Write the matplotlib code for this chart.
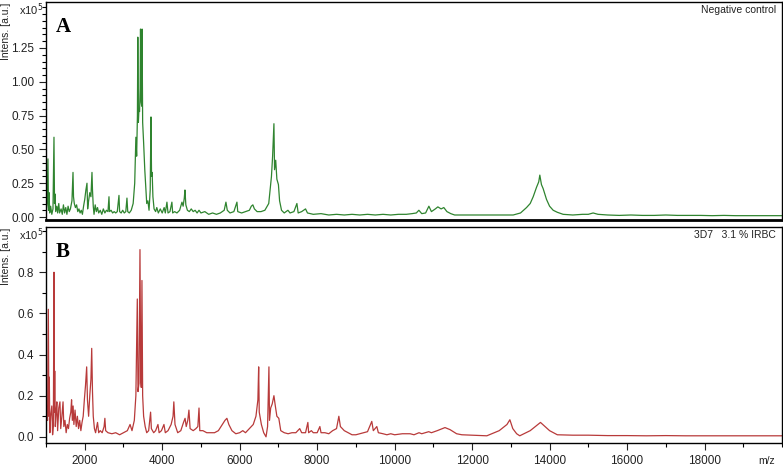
import numpy as np
import matplotlib
matplotlib.use("Agg")
import matplotlib.pyplot as plt
from matplotlib.ticker import MultipleLocator, FixedLocator

plt.rcParams['font.family'] = ['Liberation Sans', 'DejaVu Sans']

# --- panel A: negative control (m/z, intensity x1e5)
mz_a = [1000, 1030, 1050, 1065, 1080, 1095, 1120, 1150, 1180, 1206, 1220, 1235,
        1250, 1280, 1300, 1330, 1350, 1390, 1420, 1450, 1480, 1510, 1540, 1570,
        1600, 1630, 1670, 1697, 1710, 1730, 1760, 1790, 1820, 1850, 1880, 1910,
        1940, 1970, 2000, 2030, 2058, 2075, 2100, 2130, 2160, 2187, 2200, 2220,
        2240, 2270, 2300, 2330, 2360, 2400, 2440, 2480, 2520, 2560, 2600, 2626,
        2640, 2680, 2720, 2760, 2800, 2840, 2884, 2900, 2940, 2980, 3020, 3060,
        3090, 3110, 3150, 3200, 3250, 3290, 3320, 3340, 3360, 3370, 3385, 3400,
        3415, 3430, 3440, 3455, 3470, 3480, 3495, 3520, 3550, 3580, 3600, 3630,
        3660, 3690, 3710, 3725, 3740, 3760, 3790, 3830, 3860, 3900, 3950, 4000,
        4050, 4080, 4122, 4150, 4200, 4250, 4270, 4320, 4380, 4450, 4510, 4540,
        4570, 4587, 4610, 4650, 4700, 4750, 4800, 4850, 4900, 4950, 5000, 5100,
        5200, 5300, 5400, 5500, 5600, 5645, 5680, 5750, 5850, 5929, 5950, 6050,
        6150, 6250, 6300, 6340, 6380, 6450, 6550, 6650, 6750, 6820, 6850, 6884,
        6900, 6930, 6960, 7000, 7030, 7080, 7150, 7245, 7300, 7400, 7477, 7510,
        7600, 7700, 7750, 7900, 8100, 8300, 8500, 8700, 8900, 9100, 9300, 9500,
        9700, 9900, 10100, 10300, 10450, 10560, 10626, 10700, 10800, 10884, 10950,
        11050, 11116, 11200, 11270, 11350, 11450, 11550, 11800, 12100, 12400,
        12700, 12900, 13060, 13250, 13405, 13500, 13577, 13663, 13720, 13748,
        13790, 13834, 13921, 14000, 14093, 14200, 14350, 14600, 14850, 15000,
        15124, 15250, 15500, 15800, 16100, 16400, 16700, 17000, 17300, 17600,
        17900, 18200, 18500, 18800, 19100, 19400, 19700, 20000]
int_a = [0.04, 0.10, 0.43, 0.05, 0.18, 0.03, 0.08, 0.02, 0.06, 0.59, 0.10, 0.17,
         0.04, 0.08, 0.03, 0.10, 0.03, 0.06, 0.02, 0.09, 0.03, 0.07, 0.02, 0.08,
         0.04, 0.06, 0.12, 0.33, 0.15, 0.10, 0.07, 0.09, 0.04, 0.06, 0.03, 0.05,
         0.02, 0.08, 0.13, 0.20, 0.25, 0.06, 0.12, 0.18, 0.15, 0.33, 0.20, 0.08,
         0.02, 0.09, 0.04, 0.07, 0.03, 0.05, 0.02, 0.06, 0.03, 0.05, 0.04, 0.15,
         0.04, 0.05, 0.03, 0.04, 0.03, 0.04, 0.16, 0.04, 0.03, 0.05, 0.03, 0.04,
         0.14, 0.04, 0.03, 0.05, 0.10, 0.25, 0.59, 0.45, 0.75, 1.33, 0.70, 0.80,
         0.78, 0.95, 1.39, 0.85, 0.82, 1.39, 0.70, 0.55, 0.35, 0.20, 0.10, 0.12,
         0.05, 0.20, 0.74, 0.30, 0.33, 0.15, 0.06, 0.04, 0.07, 0.03, 0.06, 0.03,
         0.07, 0.03, 0.11, 0.03, 0.04, 0.11, 0.03, 0.04, 0.03, 0.05, 0.11, 0.08,
         0.14, 0.20, 0.09, 0.05, 0.04, 0.06, 0.04, 0.05, 0.03, 0.05, 0.03, 0.04,
         0.02, 0.03, 0.02, 0.03, 0.05, 0.11, 0.05, 0.03, 0.04, 0.11, 0.04, 0.03,
         0.04, 0.05, 0.08, 0.09, 0.06, 0.04, 0.04, 0.05, 0.10, 0.30, 0.45, 0.69,
         0.35, 0.42, 0.28, 0.24, 0.12, 0.05, 0.03, 0.05, 0.03, 0.04, 0.10, 0.03,
         0.04, 0.06, 0.03, 0.02, 0.025, 0.015, 0.02, 0.015, 0.02, 0.015, 0.02, 0.015,
         0.02, 0.015, 0.02, 0.02, 0.025, 0.03, 0.05, 0.025, 0.03, 0.08, 0.04,
         0.06, 0.075, 0.06, 0.07, 0.04, 0.025, 0.015, 0.015, 0.015, 0.015,
         0.015, 0.015, 0.015, 0.03, 0.07, 0.10, 0.15, 0.22, 0.26, 0.31,
         0.24, 0.21, 0.13, 0.08, 0.05, 0.035, 0.02, 0.015, 0.02, 0.02,
         0.03, 0.02, 0.015, 0.012, 0.015, 0.012, 0.012, 0.015, 0.012, 0.012,
         0.012, 0.01, 0.012, 0.01, 0.01, 0.01, 0.01, 0.01]

# --- panel B: 3D7 3.1 % IRBC
mz_b = [1000, 1020, 1040, 1060, 1075, 1085, 1100, 1120, 1150, 1170, 1190, 1206,
        1215, 1225, 1240, 1260, 1280, 1300, 1330, 1360, 1380, 1410, 1440, 1460,
        1490, 1520, 1550, 1580, 1610, 1640, 1660, 1680, 1700, 1720, 1750, 1780,
        1810, 1840, 1870, 1900, 1930, 1960, 1990, 2020, 2050, 2070, 2100, 2130,
        2160, 2180, 2200, 2220, 2250, 2280, 2330, 2360, 2400, 2450, 2500, 2520,
        2540, 2600, 2700, 2800, 2900, 3000, 3100, 3170, 3220, 3280, 3320, 3357,
        3375, 3400, 3426, 3445, 3460, 3477, 3495, 3520, 3560, 3600, 3650, 3700,
        3720, 3780, 3830, 3890, 3920, 3980, 4045, 4080, 4150, 4230, 4280, 4300,
        4330, 4400, 4480, 4550, 4590, 4620, 4660, 4690, 4720, 4800, 4870, 4920,
        4950, 4970, 5050, 5150, 5250, 5350, 5450, 5550, 5620, 5670, 5720, 5800,
        5900, 6000, 6080, 6150, 6250, 6350, 6420, 6470, 6490, 6505, 6560, 6620,
        6680, 6720, 6755, 6770, 6800, 6840, 6884, 6920, 6960, 7010, 7060, 7150,
        7250, 7350, 7450, 7550, 7600, 7700, 7760, 7780, 7850, 7900, 8000, 8070,
        8100, 8200, 8300, 8400, 8500, 8560, 8600, 8700, 8800, 8900, 9000, 9100,
        9200, 9300, 9410, 9450, 9540, 9580, 9700, 9800, 9900, 10000, 10200,
        10400, 10500, 10630, 10700, 10880, 10950, 11100, 11300, 11430, 11600,
        11735, 12000, 12380, 12700, 12900, 12975, 13050, 13150, 13230, 13500,
        13765, 13910, 14000, 14200, 14600, 15000, 15500, 16000, 16500, 17000,
        17500, 18000, 18500, 19000, 19500, 20000]
int_b = [0.05, 0.15, 0.08, 0.62, 0.10, 0.29, 0.02, 0.10, 0.15, 0.01, 0.05, 0.80,
         0.12, 0.32, 0.05, 0.12, 0.17, 0.03, 0.14, 0.17, 0.04, 0.10, 0.17, 0.05,
         0.08, 0.02, 0.06, 0.04, 0.09, 0.12, 0.18, 0.08, 0.15, 0.06, 0.13, 0.05,
         0.10, 0.04, 0.08, 0.03, 0.07, 0.10, 0.18, 0.25, 0.34, 0.18, 0.10, 0.20,
         0.28, 0.43, 0.22, 0.10, 0.04, 0.02, 0.07, 0.02, 0.03, 0.02, 0.05, 0.09,
         0.03, 0.02, 0.015, 0.02, 0.01, 0.02, 0.03, 0.06, 0.03, 0.08, 0.20, 0.67,
         0.22, 0.26, 0.91, 0.28, 0.24, 0.76, 0.20, 0.10, 0.05, 0.02, 0.03, 0.12,
         0.04, 0.02, 0.03, 0.06, 0.02, 0.03, 0.06, 0.02, 0.03, 0.06, 0.10, 0.17,
         0.06, 0.02, 0.03, 0.07, 0.09, 0.05, 0.08, 0.13, 0.04, 0.03, 0.04, 0.05,
         0.14, 0.03, 0.03, 0.02, 0.02, 0.02, 0.03, 0.06, 0.08, 0.09, 0.06, 0.03,
         0.015, 0.02, 0.03, 0.02, 0.04, 0.06, 0.10, 0.18, 0.34, 0.12, 0.06, 0.02,
         0.0, 0.05, 0.34, 0.08, 0.14, 0.16, 0.20, 0.15, 0.10, 0.09, 0.03, 0.02,
         0.015, 0.02, 0.02, 0.04, 0.02, 0.02, 0.07, 0.02, 0.03, 0.02, 0.02, 0.05,
         0.02, 0.02, 0.015, 0.03, 0.04, 0.10, 0.05, 0.03, 0.02, 0.01, 0.01, 0.015,
         0.02, 0.025, 0.075, 0.03, 0.05, 0.02, 0.015, 0.01, 0.015, 0.01, 0.015,
         0.015, 0.01, 0.02, 0.015, 0.025, 0.02, 0.03, 0.045, 0.035, 0.015,
         0.01, 0.008, 0.005, 0.03, 0.06, 0.083, 0.04, 0.015, 0.005, 0.03,
         0.07, 0.045, 0.03, 0.01, 0.008, 0.008, 0.006, 0.006, 0.005, 0.006,
         0.005, 0.005, 0.005, 0.005, 0.005, 0.005]

fig = plt.figure(figsize=(7.83, 4.68), dpi=100)
axA = fig.add_axes([46/783, 1-220/468, 736/783, 218/468])
axB = fig.add_axes([46/783, 1-443/468, 736/783, 216/468])

axA.plot(mz_a, int_a, color='#2f842f', lw=0.9)
axB.plot(mz_b, int_b, color='#b83a3a', lw=0.9)

axA.set_ylim(-0.022, 1.59)
axB.set_ylim(-0.03, 1.02)
for ax in (axA, axB):
    ax.set_xlim(1000, 20000)
    for s in ax.spines.values():
        s.set_linewidth(1.0)
    ax.tick_params(axis='y', which='major', length=5, width=0.8, labelsize=8.5,
                   colors='#222222', direction='out')
    ax.tick_params(axis='y', which='minor', length=3, width=0.8, direction='out')

axA.spines['bottom'].set_linewidth(2)
axA.yaxis.set_major_locator(FixedLocator([0, 0.25, 0.5, 0.75, 1.0, 1.25]))
axA.yaxis.set_minor_locator(MultipleLocator(0.05))
axA.set_yticklabels(['0.00', '0.25', '0.50', '0.75', '1.00', '1.25'])
axA.set_xticks([])

axB.yaxis.set_major_locator(FixedLocator([0, 0.2, 0.4, 0.6, 0.8]))
axB.yaxis.set_minor_locator(MultipleLocator(0.1))
axB.set_yticklabels(['0.0', '0.2', '0.4', '0.6', '0.8'])
axB.xaxis.set_major_locator(MultipleLocator(2000))
axB.xaxis.set_minor_locator(MultipleLocator(1000))
axB.set_xticks(list(range(2000, 20000, 2000)))
axB.tick_params(axis='x', which='major', length=5, width=0.8, labelsize=8.5,
                colors='#222222', direction='out')
axB.tick_params(axis='x', which='minor', length=3, width=0.8, direction='out')

for ax, letter, note in ((axA, 'A', 'Negative control'),
                         (axB, 'B', '3D7   3.1 % IRBC')):
    ax.text(0.013, 0.93, letter, transform=ax.transAxes, fontsize=15,
            fontweight='bold', family='Liberation Serif', va='top', ha='left')
    ax.text(0.992, 0.985, note, transform=ax.transAxes, fontsize=7.5,
            va='top', ha='right', color='#222222')
    ax.text(-0.004, 1.005, 'x10$^5$', transform=ax.transAxes, fontsize=8,
            va='top', ha='right', color='#222222')
    ax.text(-0.0545, 0.995, 'Intens. [a.u.]', transform=ax.transAxes,
            fontsize=7.5, rotation=90, va='top', ha='center', color='#222222')

fig.text(0.99, 0.004, 'm/z', fontsize=7.5, ha='right', va='bottom',
         color='#222222')

fig.savefig('out.png', dpi=100)
